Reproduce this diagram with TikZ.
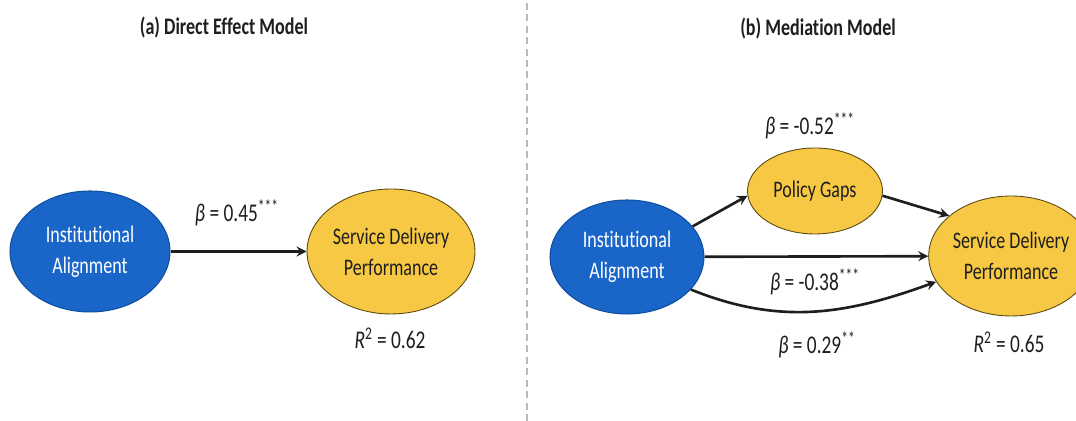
\documentclass[tikz,border=0pt]{standalone}
\usepackage{fontspec}
\setmainfont{Carlito}[FakeStretch=0.76,Ligatures=NoCommon]
\usetikzlibrary{shapes.geometric}
\definecolor{ialblue}{HTML}{1A66C8}
\definecolor{ialedge}{HTML}{0E4FA0}
\definecolor{sdpyellow}{HTML}{F7C843}
\definecolor{sdpedge}{HTML}{5A4A10}
\definecolor{inkdark}{HTML}{1E1E1E}
\tikzset{
  blueell/.style={ellipse,inner sep=0pt,draw=ialedge,line width=0.6pt,fill=ialblue,text=white,align=center},
  yellowell/.style={ellipse,inner sep=0pt,draw=sdpedge,line width=0.5pt,fill=sdpyellow,text=inkdark,align=center},
  path/.style={->,line width=1.5pt,draw=inkdark},
  coef/.style={text=inkdark,inner sep=0pt,font=\fontsize{14.5}{17}\selectfont},
  paneltitle/.style={text=inkdark,font=\fontsize{13.5}{16}\selectfont\bfseries}
}
\newcommand{\bet}{{\itshape β}}
\begin{document}
\begin{tikzpicture}[x=0.02cm,y=0.02cm,>=stealth,font=\fontsize{13.5}{17.6}\selectfont]
	\useasboundingbox (0,0) rectangle (1076,421);
	\draw[color=gray!55,line width=0.6pt,dash pattern=on 4pt off 2.5pt] (527,0)--(527,421);
	% (a) direct effect
	\node[paneltitle] (ttla) at (224,393) {(a) Direct Effect Model};
	\node[blueell,minimum width=3.2cm,minimum height=2.42cm] (iaa) at (90,169.5) {Institutional\\Alignment};
	\node[yellowell,minimum width=3.36cm,minimum height=2.5cm] (sdpa) at (391,169.5) {Service Delivery\\Performance};
	\draw[path] (iaa) -- (sdpa);
	\node[coef] (ba) at (237,208) {\bet{} = 0.45\textsuperscript{***}};
	\node[coef] (ra) at (390,83) {{\itshape R}\textsuperscript{2} = 0.62};
	% (b) mediation
	\node[paneltitle] (ttlb) at (818,392) {(b) Mediation Model};
	\node[blueell,minimum width=3.08cm,minimum height=2.28cm] (iab) at (627,164) {Institutional\\Alignment};
	\node[yellowell,minimum width=2.7cm,minimum height=1.72cm] (pg) at (815,230) {Policy Gaps};
	\node[yellowell,minimum width=3.1cm,minimum height=2.4cm] (sdpb) at (1011,165) {Service Delivery\\Performance};
	\draw[path] (iab.25) -- (pg.184);
	\draw[path] (pg.-4) -- (sdpb.147);
	\draw[path] (iab) -- (sdpb);
	\draw[path] (iab.-27) to[out=-22,in=200] (sdpb.199);
	\node[coef] (bpg) at (810,295) {\bet{} = -0.52\textsuperscript{***}};
	\node[coef] (bdir) at (815,139) {\bet{} = -0.38\textsuperscript{***}};
	\node[coef] (bind) at (817,76) {\bet{} = 0.29\textsuperscript{**}};
	\node[coef] (rb) at (1009,79) {{\itshape R}\textsuperscript{2} = 0.65};
\end{tikzpicture}
\end{document}
